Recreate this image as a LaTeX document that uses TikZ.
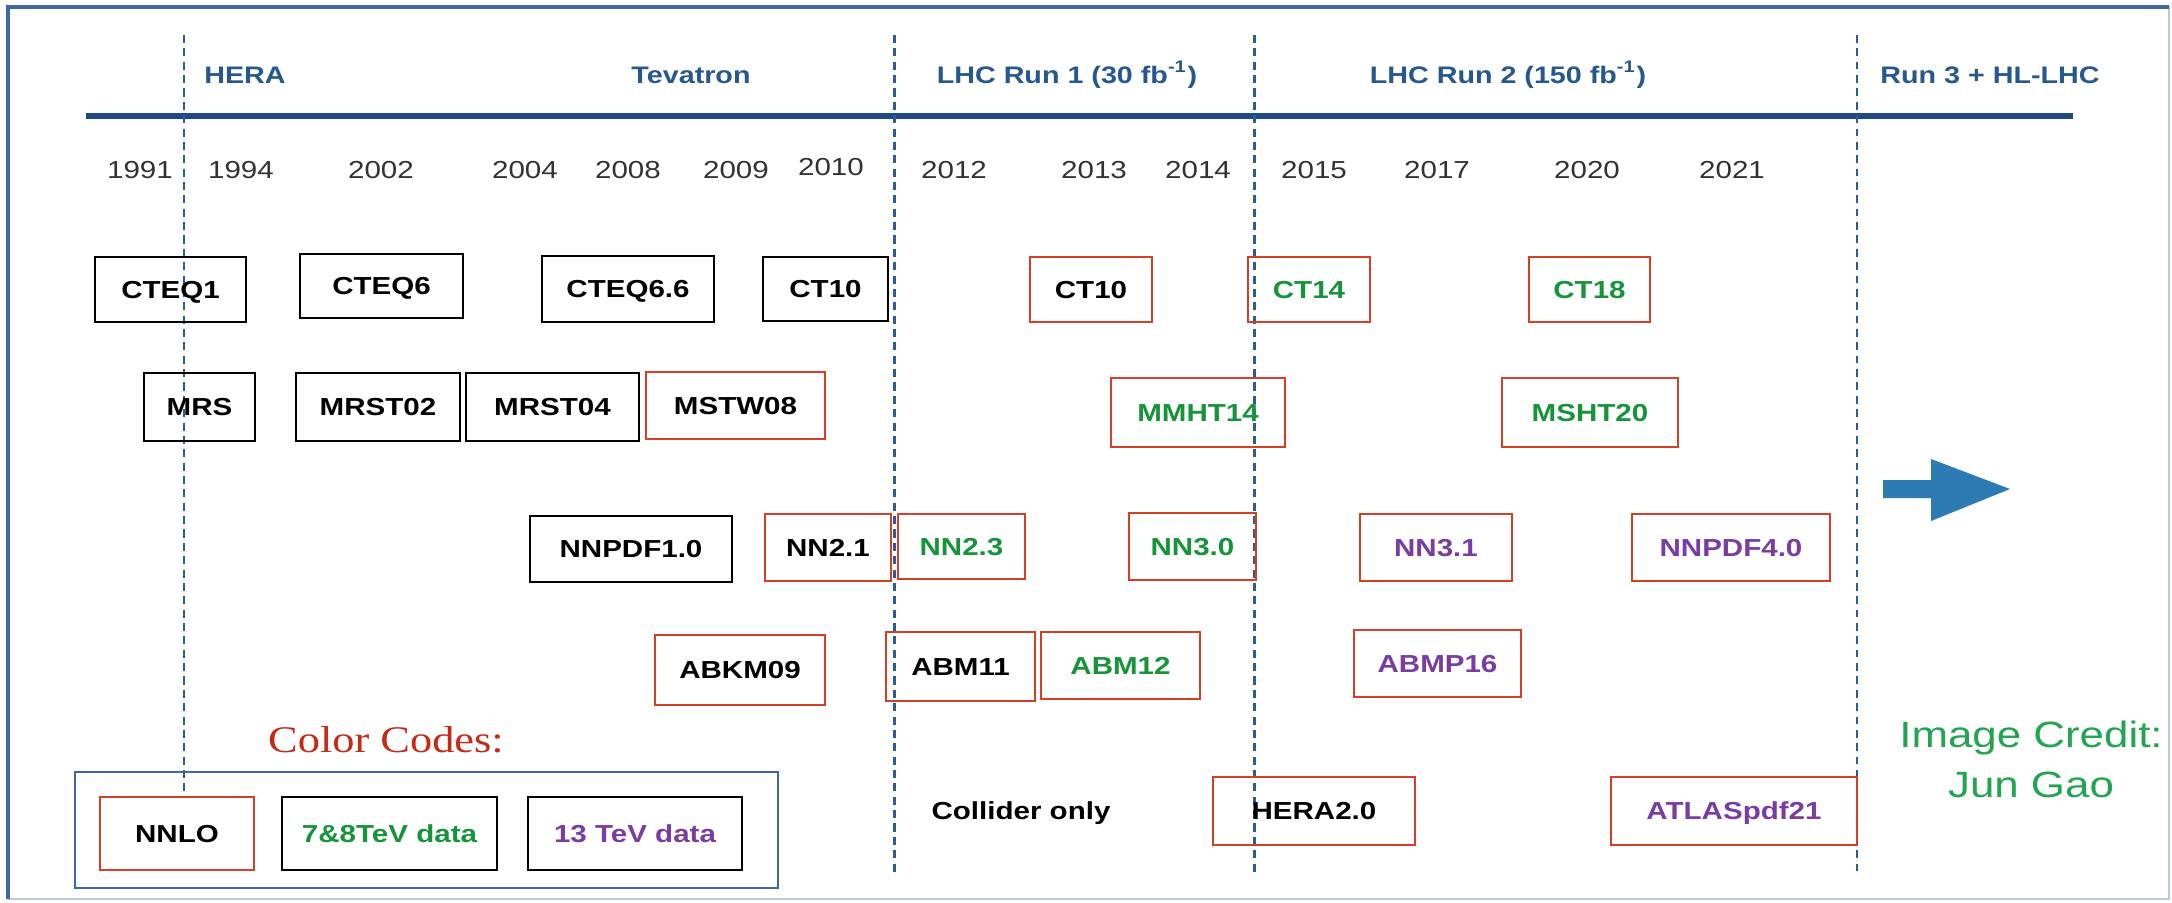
\documentclass[tikz,border=0pt]{standalone}
\usepackage{fontspec}
\setmainfont[FakeStretch=1.2]{Liberation Sans}
\newfontfamily\codesfont[FakeStretch=1.18]{Liberation Serif}
\usepackage{tikz}
\usepackage{xcolor}

\definecolor{nnlored}{RGB}{212,63,38}
\definecolor{datagreen}{RGB}{22,148,58}
\definecolor{datapurple}{RGB}{122,60,162}
\definecolor{headblue}{RGB}{38,88,142}
\definecolor{lineblue}{RGB}{42,92,150}
\definecolor{timeblue}{RGB}{30,74,130}
\definecolor{frameblue}{RGB}{62,104,162}
\definecolor{framegray}{RGB}{190,200,216}
\definecolor{arrowblue}{RGB}{46,122,178}
\definecolor{codesred}{RGB}{198,42,22}
\definecolor{creditgreen}{RGB}{34,164,80}
\definecolor{yeargray}{RGB}{50,50,50}

\begin{document}
\begin{tikzpicture}[x=0.01cm,y=-0.01cm,
  pdfbox/.style={draw=black,line width=0.8pt,inner sep=0pt,text height=5pt,text depth=0pt,
    font=\fontsize{7}{8}\selectfont\bfseries},
  nnlobox/.style={pdfbox,draw=nnlored},
  dataeight/.style={text=datagreen},
  datathirteen/.style={text=datapurple},
  header/.style={anchor=base,text=headblue,font=\fontsize{6.8}{8}\selectfont\bfseries},
  year/.style={anchor=base,text=yeargray,font=\fontsize{7}{8}\selectfont},
  runline/.style={draw=lineblue,line width=0.85pt,dash pattern=on 2.3pt off 1.5pt}]
\useasboundingbox (0,0) rectangle (2172,902);

% frame and time axis
\draw[framegray,line width=0.6pt] (8,7) rectangle (2169,899);
\draw[frameblue,line width=0.9pt] (8,899) -- (8,7) -- (2169,7);
\draw[timeblue,line width=1.5pt] (86,116) -- (2073,116);

% collider eras
\draw[runline] (184,35) -- (184,792);
\draw[runline] (894,35) -- (894,875);
\draw[runline] (1254,35) -- (1254,875);
\draw[runline,line width=0.55pt,dash pattern=on 2.2pt off 1.6pt] (1857,35) -- (1857,875);

\node (hera) at (245,83) [header] {HERA};
\node (tevatron) at (691,83) [header] {Tevatron};
\node (runone) at (1067,83) [header] {LHC Run 1 (30 fb\textsuperscript{-1})};
\node (runtwo) at (1508,83) [header] {LHC Run 2 (150 fb\textsuperscript{-1})};
\node (runthree) at (1990,83) [header] {Run 3 + HL-LHC};

% years
\node (y1991) at (140,178) [year] {1991};
\node (y1994) at (241,178) [year] {1994};
\node (y2002) at (381,178) [year] {2002};
\node (y2004) at (525,178) [year] {2004};
\node (y2008) at (628,178) [year] {2008};
\node (y2009) at (736,178) [year] {2009};
\node (y2010) at (831,175) [year] {2010};
\node (y2012) at (954,178) [year] {2012};
\node (y2013) at (1094,178) [year] {2013};
\node (y2014) at (1198,178) [year] {2014};
\node (y2015) at (1314,178) [year] {2015};
\node (y2017) at (1437,178) [year] {2017};
\node (y2020) at (1587,178) [year] {2020};
\node (y2021) at (1732,178) [year] {2021};

% CTEQ / CT
\node (cteqone) at (170.5,289.5) [pdfbox,minimum width=1.51cm,minimum height=0.65cm] {CTEQ1};
\node (cteqsix) at (381.5,286) [pdfbox,minimum width=1.63cm,minimum height=0.64cm] {CTEQ6};
\node (cteqsixsix) at (628,289) [pdfbox,minimum width=1.72cm,minimum height=0.66cm] {CTEQ6.6};
\node (ctten) at (825.5,289) [pdfbox,minimum width=1.25cm,minimum height=0.64cm] {CT10};
\node (cttennnlo) at (1091,289.5) [nnlobox,minimum width=1.22cm,minimum height=0.65cm] {CT10};
\node (ctfourteen) at (1309,289.5) [nnlobox,dataeight,minimum width=1.22cm,minimum height=0.65cm] {CT14};
\node (cteighteen) at (1589.5,289.5) [nnlobox,dataeight,minimum width=1.21cm,minimum height=0.65cm] {CT18};

% MRS / MSTW / MMHT / MSHT
\node (mrs) at (199.5,407) [pdfbox,minimum width=1.11cm,minimum height=0.68cm] {MRS};
\node (mrstzerotwo) at (378,407) [pdfbox,minimum width=1.64cm,minimum height=0.68cm] {MRST02};
\node (mrstzerofour) at (552.5,407) [pdfbox,minimum width=1.73cm,minimum height=0.68cm] {MRST04};
\node (mstw) at (735.5,405.5) [nnlobox,minimum width=1.79cm,minimum height=0.67cm] {MSTW08};
\node (mmht) at (1198,412.5) [nnlobox,dataeight,minimum width=1.74cm,minimum height=0.69cm] {MMHT14};
\node (msht) at (1590,412.5) [nnlobox,dataeight,minimum width=1.76cm,minimum height=0.69cm] {MSHT20};

% NNPDF
\node (nnpdfone) at (631,549) [pdfbox,minimum width=2.02cm,minimum height=0.66cm] {NNPDF1.0};
\node (nntwoone) at (828,547.5) [nnlobox,minimum width=1.26cm,minimum height=0.67cm] {NN2.1};
\node (nntwothree) at (961.5,546.5) [nnlobox,dataeight,minimum width=1.27cm,minimum height=0.65cm] {NN2.3};
\node (nnthreezero) at (1192.5,546.5) [nnlobox,dataeight,minimum width=1.27cm,minimum height=0.67cm] {NN3.0};
\node (nnthreeone) at (1436,547.5) [nnlobox,datathirteen,minimum width=1.52cm,minimum height=0.67cm] {NN3.1};
\node (nnpdffour) at (1731,547.5) [nnlobox,datathirteen,minimum width=1.98cm,minimum height=0.67cm] {NNPDF4.0};

% ABM
\node (abkm) at (740,670) [nnlobox,minimum width=1.70cm,minimum height=0.70cm] {ABKM09};
\node (abmeleven) at (960.5,666.5) [nnlobox,minimum width=1.49cm,minimum height=0.69cm] {ABM11};
\node (abmtwelve) at (1120.5,665.5) [nnlobox,dataeight,minimum width=1.59cm,minimum height=0.67cm] {ABM12};
\node (abmp) at (1437.5,663.5) [nnlobox,datathirteen,minimum width=1.67cm,minimum height=0.67cm] {ABMP16};

% collider only
\node (collider) at (1021,811) [pdfbox,draw=none] {Collider only};
\node (heratwo) at (1314,811) [nnlobox,minimum width=2.02cm,minimum height=0.68cm] {HERA2.0};
\node (atlas) at (1734,811) [nnlobox,datathirteen,minimum width=2.46cm,minimum height=0.68cm] {ATLASpdf21};

% colour codes
\node (codes) at (386,752) [anchor=base,text=codesred,font=\codesfont\fontsize{10.7}{12}\selectfont] {Color Codes:};
\node (legend) at (426.5,830) [draw=frameblue,line width=0.7pt,minimum width=7.03cm,minimum height=1.16cm] {};
\node (nnlo) at (177,833.5) [nnlobox,minimum width=1.54cm,minimum height=0.73cm] {NNLO};
\node (eightdata) at (389.5,833.5) [pdfbox,dataeight,minimum width=2.15cm,minimum height=0.73cm] {7\&8TeV data};
\node (thirteendata) at (635,833.5) [pdfbox,datathirteen,minimum width=2.14cm,minimum height=0.73cm] {13 TeV data};

% future
\fill[arrowblue] (1883,480) -- (1931,480) -- (1931,459) -- (2010,489)
  -- (1931,521) -- (1931,498) -- (1883,498) -- cycle;
\node (creditone) at (2031,747) [anchor=base,text=creditgreen,font=\fontsize{10.4}{12}\selectfont] {Image Credit:};
\node (credittwo) at (2031,797) [anchor=base,text=creditgreen,font=\fontsize{10.4}{12}\selectfont] {Jun Gao};
\end{tikzpicture}
\end{document}
